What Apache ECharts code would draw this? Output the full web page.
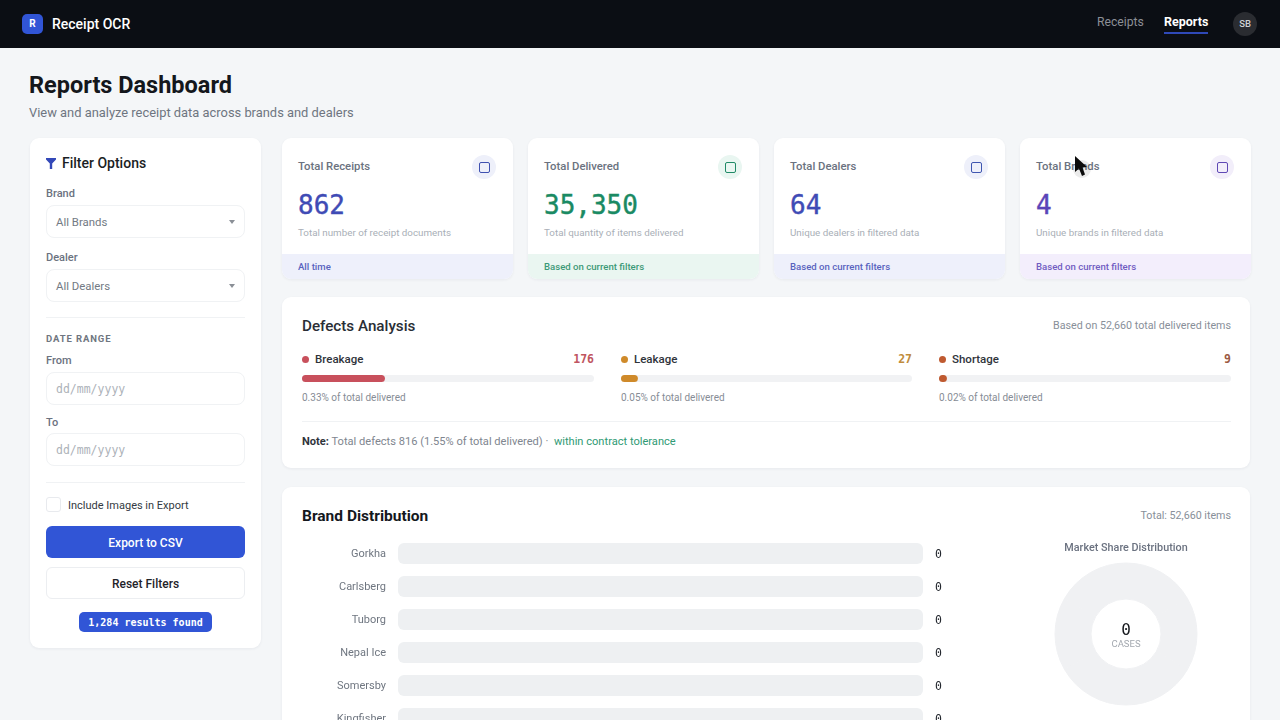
<!DOCTYPE html>
<html>
<head>
<meta charset="utf-8">
<title>Reports Dashboard</title>
<script src="https://cdn.jsdelivr.net/npm/echarts@6/dist/echarts.min.js"></script>
<style>
html, body { margin: 0; width: 1280px; height: 720px; overflow: hidden; background: #f4f6f8; }
body { position: relative; font-family: Roboto, sans-serif; color: #23272e; }
.a { position: absolute; white-space: nowrap; }
.t { position: absolute; white-space: nowrap; line-height: 20px; margin-top: -10px; }
.r { transform: translateX(-100%); }
.c { transform: translateX(-50%); }
.mono { font-family: "DejaVu Sans Mono", monospace; }
.card { position: absolute; background: #fff; border-radius: 9px; box-shadow: 0 1px 3px rgba(30,40,60,.06); overflow: hidden; }
.box { position: absolute; left: 46px; width: 197px; height: 31px; border: 1px solid #f0f2f4; border-radius: 8px; background: #fff; }
.lab { font-size: 11px; color: #6b7280; font-weight: 500; left: 46px; }
.inp { font-size: 11.4px; color: #737a84; left: 56px; }
.ph { font-size: 11.5px; color: #adb2b9; left: 56px; }
.car { position: absolute; left: 229px; width: 0; height: 0; border-left: 3.5px solid transparent; border-right: 3.5px solid transparent; border-top: 4px solid #8a8f96; }
.hr { position: absolute; height: 1px; background: #f0f2f4; }
.dot { position: absolute; width: 7px; height: 7px; border-radius: 50%; }
</style>
</head>
<body>
<div id="page"></div>
<div id="defects" class="a" style="left:302px;top:370px;width:929px;height:18px"></div>
<div id="brands" class="a" style="left:290px;top:537px;width:670px;height:198px"></div>
<div id="share" class="a" style="left:1026px;top:536px;width:200px;height:184px"></div>
<svg class="a" style="left:1070px;top:152px;width:24px;height:30px" viewBox="0 0 24 30">
  <ellipse cx="12" cy="17" rx="9" ry="9" fill="rgba(0,0,0,.08)"/>
  <path d="M5 4 L5 20 L9 16.5 L12 24 L15 22.5 L12.5 15.5 L17 15 Z" fill="#0b0b0b"/>
</svg>
<script>
// header numbers
var statLabels = ['Total Receipts', 'Total Delivered', 'Total Dealers', 'Total Brands'];
var statValues = ['862', '35,350', '64', '4'];
var statNotes = ['Total number of receipt documents', 'Total quantity of items delivered', 'Unique dealers in filtered data', 'Unique brands in filtered data'];
var statFooters = ['All time', 'Based on current filters', 'Based on current filters', 'Based on current filters'];

// defects
var defectNames = ['Breakage', 'Leakage', 'Shortage'];
var defectCounts = ['176', '27', '9'];
var defectShare = ['0.33%', '0.05%', '0.02%'];
var defectFill = [28.4, 5.8, 2.7];

// brand distribution
var brandNames = ['Gorkha', 'Carlsberg', 'Tuborg', 'Nepal Ice', 'Somersby', 'Kingfisher'];
var brandValues = [0, 0, 0, 0, 0, 0];
var brandTotal = 52660;

var statInk = ['#3f4bb5', '#1a8a63', '#3f4bb5', '#5a44b8'];
var statIcon = ['#3f51b0', '#1f8a66', '#3f56b0', '#5f48b5'];
var statHalo = ['#eef0fa', '#e9f6f1', '#eef0fa', '#f2eefa'];
var statBand = ['#eef0fb', '#eaf6f1', '#eef0fb', '#f3eefc'];
var defectInk = ['#c8505c', '#cf8a2a', '#bf5a30'];
var defectText = ['#bf5560', '#c08c3c', '#9c5a44'];

var html = '';
function text(x, y, cls, style, s) {
  html += '<div class="t ' + cls + '" style="left:' + x + 'px;top:' + y + 'px;' + style + '">' + s + '</div>';
}

// nav
html += '<div class="a" style="left:0;top:0;width:1280px;height:48px;background:#0b0e14"></div>';
html += '<div class="a" style="left:22px;top:14px;width:21px;height:20px;border-radius:5px;background:#3155d6"></div>';
text(32.5, 24, 'c', 'font-size:10px;font-weight:700;color:#fff', 'R');
text(52, 24, '', 'font-size:14px;font-weight:500;color:#fff', 'Receipt OCR');
text(1097, 22, '', 'font-size:12.2px;color:#8b8f96', 'Receipts');
text(1164, 22, '', 'font-size:12.5px;font-weight:700;color:#fff', 'Reports');
html += '<div class="a" style="left:1164px;top:32px;width:44px;height:2px;background:#2f49b8"></div>';
html += '<div class="a" style="left:1233px;top:12px;width:24px;height:24px;border-radius:50%;background:#2a2c31"></div>';
text(1245, 24, 'c', 'font-size:9.5px;font-weight:500;color:#cfd1d4', 'SB');

// page title
text(29, 85, '', 'font-size:23.5px;font-weight:700;color:#14171c', 'Reports Dashboard');
text(29, 113, '', 'font-size:12.9px;color:#6e7580', 'View and analyze receipt data across brands and dealers');

// filter panel
html += '<div class="card" style="left:30px;top:138px;width:231px;height:510px"></div>';
html += '<svg class="a" style="left:46px;top:158px;width:10px;height:11px" viewBox="0 0 10 11"><path d="M0 0 H10 V1.5 L6.2 5.5 V11 H3.8 V5.5 L0 1.5 Z" fill="#3348b8"/></svg>';
text(62, 163, '', 'font-size:14px;font-weight:500;color:#1b1e24', 'Filter Options');
text(46, 194, 'lab', '', 'Brand');
html += '<div class="box" style="top:205px"></div><div class="car" style="top:220px"></div>';
text(56, 221.5, 'inp', '', 'All Brands');
text(46, 258, 'lab', '', 'Dealer');
html += '<div class="box" style="top:269px"></div><div class="car" style="top:284px"></div>';
text(56, 285.5, 'inp', '', 'All Dealers');
html += '<div class="hr" style="left:46px;top:317px;width:199px"></div>';
text(46, 339, '', 'font-size:9.5px;font-weight:700;letter-spacing:.9px;color:#6f7680', 'DATE RANGE');
text(46, 361, 'lab', '', 'From');
html += '<div class="box" style="top:372px"></div>';
text(56, 388.5, 'ph mono', '', 'dd/mm/yyyy');
text(46, 423, 'lab', '', 'To');
html += '<div class="box" style="top:433px"></div>';
text(56, 450, 'ph mono', '', 'dd/mm/yyyy');
html += '<div class="hr" style="left:46px;top:482px;width:199px"></div>';
html += '<div class="a" style="left:46px;top:497px;width:13px;height:13px;border:1px solid #e8eaee;border-radius:3px"></div>';
text(68, 506, '', 'font-size:11px;color:#333a42', 'Include Images in Export');
html += '<div class="a" style="left:46px;top:526px;width:199px;height:32px;border-radius:6px;background:#3155d6"></div>';
text(145.5, 542.5, 'c', 'font-size:12px;font-weight:500;color:#fff', 'Export to CSV');
html += '<div class="a" style="left:46px;top:567px;width:197px;height:30px;border:1px solid #eceef1;border-radius:6px;background:#fff"></div>';
text(145.5, 583.5, 'c', 'font-size:12px;font-weight:500;color:#1f2329', 'Reset Filters');
html += '<div class="a" style="left:79px;top:612px;width:133px;height:20px;border-radius:5px;background:#3155d6"></div>';
text(145.5, 622.5, 'c mono', 'font-size:10px;font-weight:700;color:#fff', '1,284 results found');

// stat cards
statLabels.forEach(function (label, i) {
  var x = 282 + i * 246;
  html += '<div class="card" style="left:' + x + 'px;top:138px;width:231px;height:141px">' +
    '<div class="a" style="left:0;top:116px;width:231px;height:25px;background:' + statBand[i] + '"></div>' +
    '<div class="a" style="left:190px;top:17px;width:24px;height:24px;border-radius:50%;background:' + statHalo[i] + '"></div>' +
    '<div class="a" style="left:196.5px;top:23.5px;width:9px;height:9px;border:1.5px solid ' + statIcon[i] + ';border-radius:2px"></div>' +
    '</div>';
  text(x + 16, 167, '', 'font-size:11.3px;font-weight:500;color:#6b7280', label);
  text(x + 16, 205, 'mono', 'font-size:26px;-webkit-text-stroke:.4px ' + statInk[i] + ';color:' + statInk[i], statValues[i]);
  text(x + 16, 232.5, '', 'font-size:9.8px;color:#a9afb7', statNotes[i]);
  text(x + 16, 266.5, '', 'font-size:9.6px;font-weight:500;opacity:.85;color:' + statInk[i], statFooters[i]);
});

// defects card
var defectLeft = [302, 621, 939];
var defectRight = [594, 912, 1231];
html += '<div class="card" style="left:282px;top:297px;width:968px;height:171px"></div>';
text(302, 326, '', 'font-size:15.2px;font-weight:500;color:#2a2e35', 'Defects Analysis');
text(1231, 326, 'r', 'font-size:10.7px;color:#888f99', 'Based on 52,660 total delivered items');
defectNames.forEach(function (name, i) {
  html += '<div class="dot" style="left:' + defectLeft[i] + 'px;top:355.5px;background:' + defectInk[i] + '"></div>';
  text(defectLeft[i] + 13, 359, '', 'font-size:11.5px;font-weight:500;color:#2f343b', name);
  text(defectRight[i], 359, 'r mono', 'font-size:11.5px;font-weight:700;color:' + defectText[i], defectCounts[i]);
  text(defectLeft[i], 397.5, '', 'font-size:10px;color:#878d96', defectShare[i] + ' of total delivered');
});
html += '<div class="hr" style="left:302px;top:421px;width:929px"></div>';
text(302, 441.5, '', 'font-size:11.1px;color:#80868f', '<b style="color:#2f343b">Note:</b> Total defects 816 (1.55% of total delivered) &middot; &nbsp;<span style="color:#2f9a74">within contract tolerance</span>');

// brand card
html += '<div class="card" style="left:282px;top:487px;width:968px;height:260px"></div>';
text(302, 516, '', 'font-size:15.5px;font-weight:700;color:#15181d', 'Brand Distribution');
text(1231, 516, 'r', 'font-size:10.7px;color:#888f99', 'Total: ' + brandTotal.toLocaleString('en-US') + ' items');

document.getElementById('page').innerHTML = html;

// progress bars, one grid per defect
var defectChart = echarts.init(document.getElementById('defects'));
defectChart.setOption({
  animation: false,
  grid: defectNames.map(function (n, i) {
    return { left: defectLeft[i] - 302, width: defectRight[i] - defectLeft[i], top: 5, height: 7 };
  }),
  xAxis: defectNames.map(function (n, i) {
    return { type: 'value', gridIndex: i, min: 0, max: 100, show: false };
  }),
  yAxis: defectNames.map(function (n, i) {
    return { type: 'category', gridIndex: i, data: [n], show: false };
  }),
  series: defectNames.map(function (n, i) {
    return {
      type: 'bar', name: n, xAxisIndex: i, yAxisIndex: i, barWidth: 7,
      data: [defectFill[i]],
      itemStyle: { color: defectInk[i], borderRadius: 3.5 },
      showBackground: true,
      backgroundStyle: { color: '#f1f2f4', borderRadius: 3.5 }
    };
  })
});

// horizontal bars, every value is 0 in this frame
var brandChart = echarts.init(document.getElementById('brands'));
brandChart.setOption({
  animation: false,
  grid: { left: 108, width: 525, top: 0, height: 198 },
  xAxis: { type: 'value', min: 0, max: brandTotal, show: false },
  yAxis: [{
    type: 'category', data: brandNames, inverse: true,
    axisLine: { show: false }, axisTick: { show: false },
    axisLabel: { margin: 12, verticalAlign: 'top', lineHeight: 2, fontFamily: 'Roboto', fontSize: 11, color: '#6f7680' }
  }, {
    type: 'category', data: brandValues.map(String), inverse: true, position: 'right',
    axisLine: { show: false }, axisTick: { show: false },
    axisLabel: { margin: 12, verticalAlign: 'top', lineHeight: 3, fontFamily: 'DejaVu Sans Mono', fontSize: 11.5, color: '#23272e' }
  }],
  series: [{
    type: 'bar', data: brandValues, barWidth: 21,
    itemStyle: { color: '#3155d6', borderRadius: 6 },
    showBackground: true,
    backgroundStyle: { color: '#eef0f2', borderRadius: 6 }
  }]
});

// donut, empty slices all grey
var shareChart = echarts.init(document.getElementById('share'));
var shareSum = brandValues.reduce(function (a, b) { return a + b; }, 0);
shareChart.setOption({
  animation: false,
  title: [{
    text: 'Market Share Distribution', left: 'center', top: 2,
    textStyle: { fontFamily: 'Roboto', fontSize: 10.8, fontWeight: 500, color: '#6b7280' }
  }, {
    text: String(shareSum), left: 'center', top: 82,
    textStyle: { fontFamily: 'DejaVu Sans Mono', fontSize: 16, fontWeight: 'normal', color: '#14171c' }
  }, {
    text: 'CASES', left: 'center', top: 99,
    textStyle: { fontFamily: 'Roboto', fontSize: 9.5, fontWeight: 'normal', color: '#a3a8af' }
  }],
  series: [{
    type: 'pie', center: [100, 98], radius: [35, 71], silent: true,
    data: brandNames.map(function (n, i) { return { name: n, value: brandValues[i] }; }),
    label: { show: false }, labelLine: { show: false },
    itemStyle: { color: '#f0f1f3', borderColor: '#f0f1f3', borderWidth: 1 }
  }]
});
</script>
</body>
</html>
